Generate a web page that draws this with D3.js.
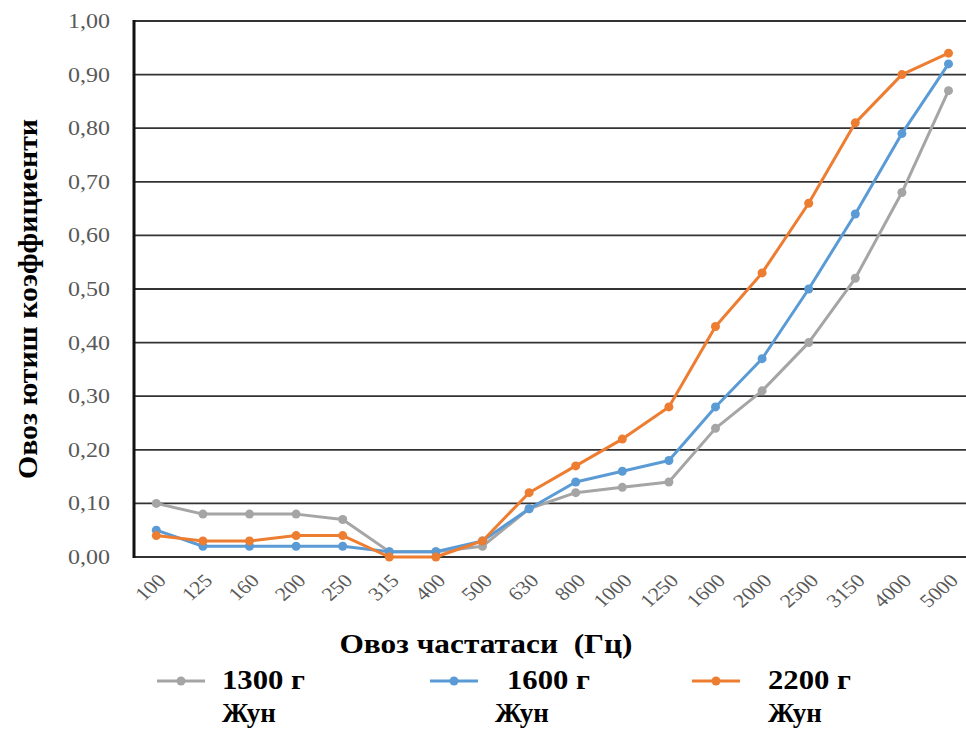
<!DOCTYPE html>
<html>
<head>
<meta charset="utf-8">
<script src="https://cdn.jsdelivr.net/npm/d3@7"></script>
<style>
  body { margin: 0; background: #fff; }
  svg text { font-family: "Times New Roman", "Liberation Serif", Tinos, "Noto Serif", "DejaVu Serif", Times, serif !important; }
</style>
</head>
<body>
<script>
// categories and values
var freqs = ["100","125","160","200","250","315","400","500","630","800","1000","1250","1600","2000","2500","3150","4000","5000"];
var s1300 = [0.10,0.08,0.08,0.08,0.07,0.01,0.01,0.02,0.09,0.12,0.13,0.14,0.24,0.31,0.40,0.52,0.68,0.87];
var s1600 = [0.05,0.02,0.02,0.02,0.02,0.01,0.01,0.03,0.09,0.14,0.16,0.18,0.28,0.37,0.50,0.64,0.79,0.92];
var s2200 = [0.04,0.03,0.03,0.04,0.04,0.00,0.00,0.03,0.12,0.17,0.22,0.28,0.43,0.53,0.66,0.81,0.90,0.94];
var yTicks = [0,0.1,0.2,0.3,0.4,0.5,0.6,0.7,0.8,0.9,1.0];
var seriesNames = ["1300 г","1600 г","2200 г"];
var colors = ["#A5A5A5","#5B9BD5","#ED7D31"];

var W = 966, H = 729;
var svg = d3.select("body").append("svg")
    .attr("width", W)
    .attr("height", H);

var x = d3.scalePoint().domain(freqs).range([156.3, 948.5]);
var y = d3.scaleLinear().domain([0, 1]).range([557, 21]);

// grid lines
svg.append("g")
  .selectAll("line")
  .data(yTicks)
  .enter().append("line")
    .attr("x1", 134)
    .attr("x2", W)
    .attr("y1", function(d) { return y(d); })
    .attr("y2", function(d) { return y(d); })
    .attr("stroke", "#333")
    .attr("stroke-width", 1.8);

// y axis labels (a bit wide, like the picture)
var yAxis = d3.axisLeft(y).tickValues(yTicks).tickSize(0).tickPadding(20)
    .tickFormat(function(d) { return d3.format(".2f")(d).replace(".", ","); });
var gy = svg.append("g").attr("transform", "translate(134,0)").call(yAxis);
gy.attr("font-family", null).attr("font-size", null);
gy.select(".domain").remove();
gy.selectAll("text")
  .style("font-size", "20px")
  .attr("fill", "#595959")
  .attr("transform", "scale(1.2,1)");

// left axis line
svg.append("line")
  .attr("x1", 134).attr("x2", 134)
  .attr("y1", y(1) - 1).attr("y2", y(0) + 1)
  .attr("stroke", "#111").attr("stroke-width", 3);

// x labels rotated
var xAxis = d3.axisBottom(x).tickSize(0).tickPadding(0);
var gx = svg.append("g").attr("transform", "translate(0," + y(0) + ")").call(xAxis);
gx.attr("font-family", null).attr("font-size", null);
gx.select(".domain").remove();
gx.selectAll("text")
  .style("font-size", "19px")
  .attr("fill", "#595959")
  .attr("text-anchor", "end")
  .attr("dy", "0.35em")
  .attr("transform", "translate(5,20) scale(1.15,1) rotate(-45)");

// lines
var allSeries = [s1300, s1600, s2200];
var line = d3.line()
  .x(function(d, i) { return x(freqs[i]); })
  .y(function(d) { return y(d); });

allSeries.forEach(function(s, k) {
  svg.append("path")
    .datum(s)
    .attr("d", line)
    .attr("fill", "none")
    .attr("stroke", colors[k])
    .attr("stroke-width", 3)
    .attr("stroke-linejoin", "round");
  svg.append("g").selectAll("circle")
    .data(s)
    .enter().append("circle")
      .attr("cx", function(d, i) { return x(freqs[i]); })
      .attr("cy", function(d) { return y(d); })
      .attr("r", 4.5)
      .attr("fill", colors[k]);
});

// axis titles
svg.append("text")
  .attr("transform", "translate(37,299) rotate(-90)")
  .attr("text-anchor", "middle")
  .attr("textLength", 360)
  .attr("lengthAdjust", "spacingAndGlyphs")
  .style("font-size", "28px")
  .style("font-weight", "bold")
  .text("Овоз ютиш коэффициенти");

svg.append("text")
  .attr("x", 486)
  .attr("y", 653)
  .attr("text-anchor", "middle")
  .attr("textLength", 293)
  .attr("lengthAdjust", "spacingAndGlyphs")
  .style("font-size", "27px")
  .style("font-weight", "bold")
  .text("Овоз частатаси\u00a0\u00a0(Гц)");

// legend
var legX = [157, 430, 692];
var legTx = [222, 507, 768];
var legTx2 = [222, 495, 768];
seriesNames.forEach(function(n, k) {
  var g = svg.append("g");
  g.append("line")
    .attr("x1", legX[k]).attr("x2", legX[k] + 48)
    .attr("y1", 681).attr("y2", 681)
    .attr("stroke", colors[k]).attr("stroke-width", 3);
  g.append("circle")
    .attr("cx", legX[k] + 24).attr("cy", 681).attr("r", 4.5)
    .attr("fill", colors[k]);
  g.append("text")
    .attr("x", legTx[k]).attr("y", 689)
    .attr("textLength", 83)
    .attr("lengthAdjust", "spacingAndGlyphs")
    .style("font-size", "27px").style("font-weight", "bold")
    .text(n);
  g.append("text")
    .attr("x", legTx2[k]).attr("y", 722)
    .style("font-size", "27px").style("font-weight", "bold")
    .text("Жун");
});
</script>
</body>
</html>
